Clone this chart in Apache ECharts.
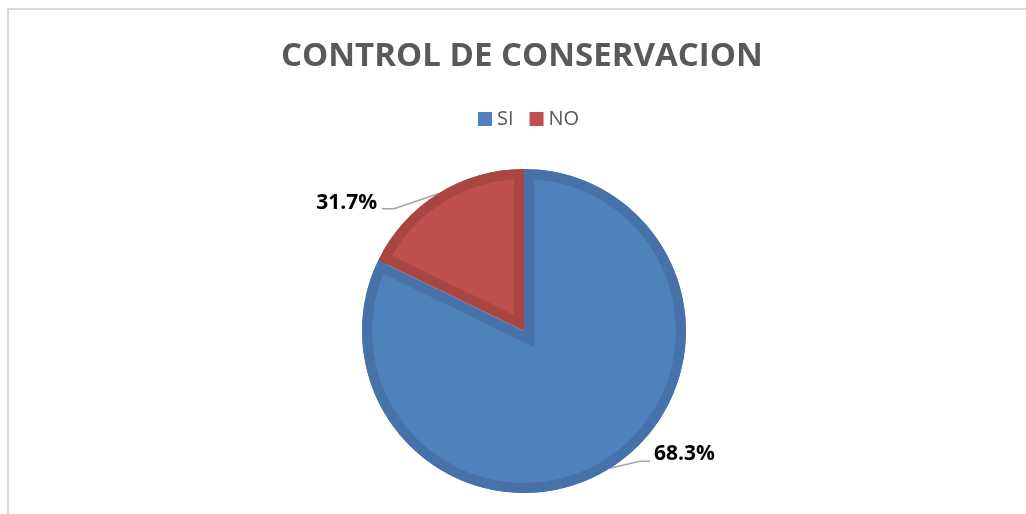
<!DOCTYPE html>
<html>
<head>
<meta charset="utf-8">
<script src="https://cdn.jsdelivr.net/npm/echarts@6/dist/echarts.min.js"></script>
<style>
html,body{margin:0;padding:0;background:#fff;}
#chart{width:1026px;height:514px;}
</style>
</head>
<body>
<div id="chart"></div>
<script>
// ---- data ----
const categories = ['SI', 'NO'];
const sliceValues = [82.2, 17.8];          // shares as drawn by the slices
const labelTexts = ['68.3%', '31.7%'];     // printed data labels
const lightColors = ['#4f81bd', '#c0504d'];
const darkColors = ['#4672a9', '#a94643'];

// ---- layout ----
const cx = 524, cy = 331, R = 162, band = 10;
const total = sliceValues.reduce((a, b) => a + b, 0);
let acc = 0;
const offsets = sliceValues.map(v => {
  const a0 = acc / total * 2 * Math.PI;
  acc += v;
  const a1 = acc / total * 2 * Math.PI;
  const h = (a1 - a0) / 2, m = a0 + h;
  const d = band / Math.sin(h);
  return [cx + d * Math.sin(m), cy - d * Math.cos(m)];
});

function dataWith(colorFn) {
  return categories.map((n, i) => ({ name: n, value: sliceValues[i], itemStyle: { color: colorFn(i) } }));
}
const basePie = {
  type: 'pie', startAngle: 90, clockwise: true, silent: true,
  label: { show: false }, labelLine: { show: false }, emphasis: { disabled: true },
  avoidLabelOverlap: false, animation: false
};

const series = [
  Object.assign({}, basePie, { z: 1, center: [cx, cy], radius: R, data: dataWith(i => darkColors[i]) })
];
categories.forEach((c, k) => {
  series.push(Object.assign({}, basePie, {
    z: 2, center: offsets[k], radius: R + 20,
    data: dataWith(i => i === k ? lightColors[i] : 'rgba(0,0,0,0)')
  }));
});
series.push(Object.assign({}, basePie, { z: 3, center: [cx, cy], radius: [R, R + 42], data: dataWith(() => '#ffffff') }));
series.push(Object.assign({}, basePie, {
  z: 4, center: [cx, cy], radius: [R - band, R], data: dataWith(i => darkColors[i]),
  label: {
    show: true, position: 'outside',
    formatter: p => labelTexts[p.dataIndex],
    fontFamily: 'Open Sans', fontWeight: 'bold', fontSize: 21, color: '#000000'
  },
  labelLine: { show: true, length: 20, length2: 10, lineStyle: { color: '#a6a6a6', width: 1.5 } },
  labelLayout: function (params) {
    const pts = params.labelLinePoints;
    if (!pts) return {};
    const s = pts[0];
    if (params.dataIndex === 1) {
      const bend = [s[0] - 44, s[1] + 15];
      const end = [bend[0] - 12, bend[1]];
      return { x: end[0] - 5, y: end[1] - 6, align: 'right', verticalAlign: 'middle', labelLinePoints: [s, bend, end] };
    } else {
      const bend = [s[0] + 30, s[1] - 7];
      const end = [bend[0] + 10, bend[1]];
      return { x: end[0] + 4, y: end[1] - 7, align: 'left', verticalAlign: 'middle', labelLinePoints: [s, bend, end] };
    }
  }
}));

const chart = echarts.init(document.getElementById('chart'));
chart.setOption({
  animation: false,
  backgroundColor: '#ffffff',
  title: {
    text: 'CONTROL DE CONSERVACION', left: 281, top: 40, padding: 0, z: 10,
    textStyle: { fontFamily: 'Open Sans', fontWeight: 'bold', fontSize: 33, color: '#595959' }
  },
  legend: {
    data: categories.map((n, i) => ({ name: n, itemStyle: { color: lightColors[i] } })),
    left: 478, top: 109, padding: 0, z: 10,
    icon: 'rect', itemWidth: 14, itemHeight: 14, itemGap: 16, selectedMode: false,
    textStyle: { fontFamily: 'Open Sans', fontSize: 20, color: '#595959', padding: [0, 0, 0, 0] }
  },
  graphic: [{
    type: 'rect', silent: true, z: 0,
    shape: { x: 8, y: 9, width: 1200, height: 800 },
    style: { fill: 'none', stroke: '#d9d9d9', lineWidth: 2 }
  }],
  series: series
});
</script>
</body>
</html>
